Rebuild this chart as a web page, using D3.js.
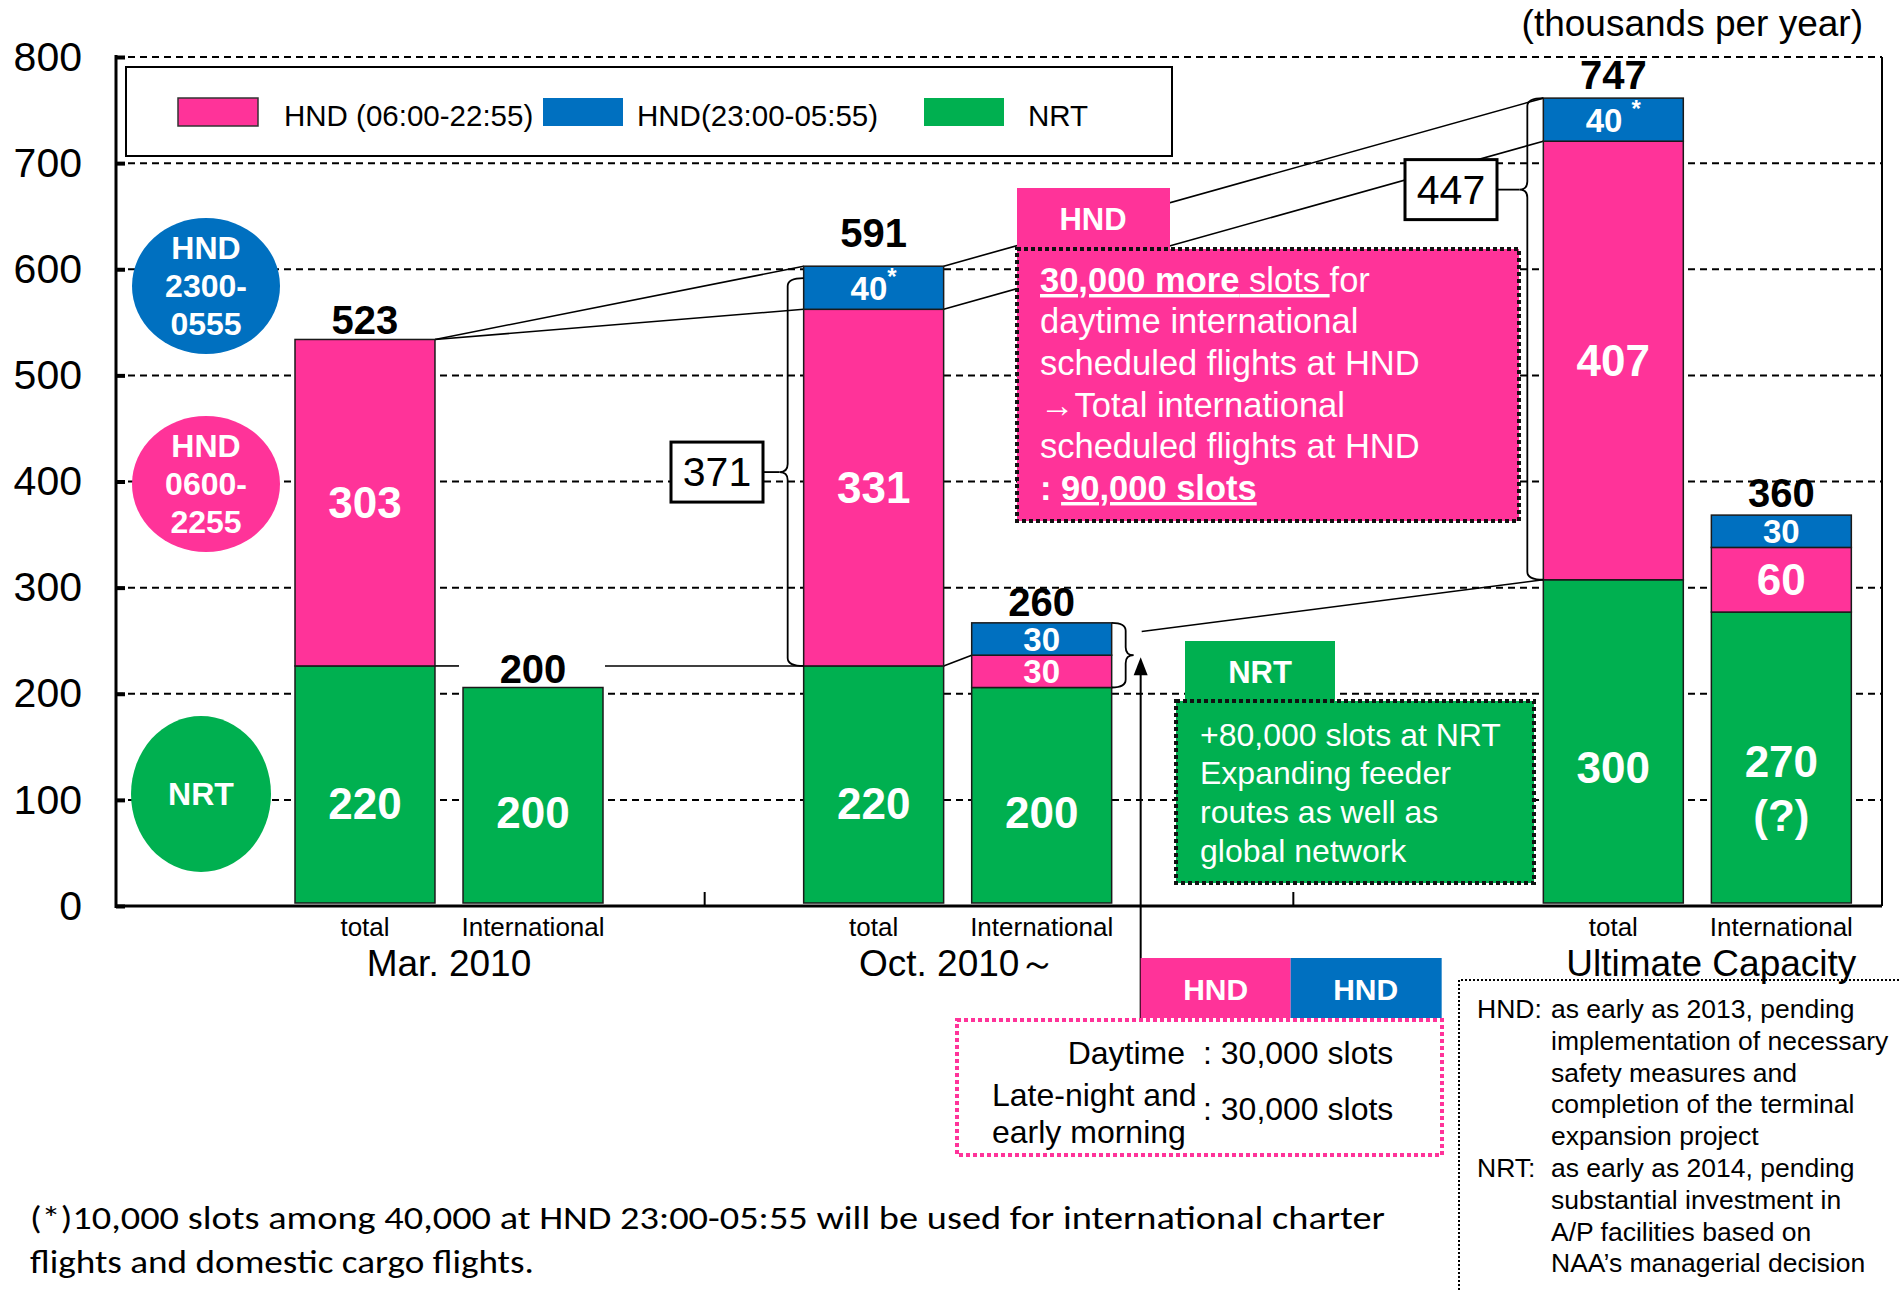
<!DOCTYPE html>
<html>
<head>
<meta charset="utf-8">
<script src="https://cdn.jsdelivr.net/npm/d3@7"></script>
<style>
body { margin: 0; background: #fff; }
text { font-family: "Liberation Sans", Arial, sans-serif; }
</style>
</head>
<body>
<svg id="chart" width="1901" height="1290"></svg>
<script>
// slots per year at HND / NRT, thousands
const groups = ["Mar. 2010", "Oct. 2010～", "Ultimate Capacity"];
const kinds = ["total", "International"];
const nrt = [220, 200, 220, 200, 300, 270];
const hndDay = [303, 0, 331, 30, 407, 60];
const hndNight = [0, 0, 40, 30, 40, 30];
const totals = [523, 200, 591, 260, 747, 360];
const nrtLabels = ["220", "200", "220", "200", "300", "270\n(?)"];
const dayLabels = ["303", "", "331", "30", "407", "60"];
const nightLabels = ["", "", "40*", "30", "40 *", "30"];
const yTicks = [0, 100, 200, 300, 400, 500, 600, 700, 800];
const seriesNames = ["HND (06:00-22:55)", "HND(23:00-05:55)", "NRT"];

const PINK = "#FF3399", BLUE = "#0070C0", GREEN = "#00B050";
const colors = {nrt: GREEN, day: PINK, night: BLUE};

const svg = d3.select("#chart");
svg.append("rect").attr("width", 1901).attr("height", 1290).attr("fill", "#fff");

const left = 116, right = 1882;
// gridline scale
const y = d3.scaleLinear().domain([0, 800]).range([906, 57]);
// the bars in the source are drawn on a slightly taller scale than the gridlines
const yv = d3.scaleLinear().domain([0, 800]).range([903, 41]);
const gx = d3.scaleBand().domain(groups).range([left, right]);
const groupShift = [179, 99, 250];   // bars were nudged by hand in each category
const labelNudge = [0, 0, 14];
const totalLift = [5, 5, 19, 7, 9, 8];
const ix = d3.scaleBand().domain(kinds).range([0, 308]).paddingInner(0.167);
const bw = ix.bandwidth();

let rows = nrt.map(function(v, i){
  return {i: i, group: groups[Math.floor(i / 2)], kind: kinds[i % 2], nrt: v, day: hndDay[i], night: hndNight[i]};
});
function barX(i){
  let g = Math.floor(i / 2);
  return gx(groups[g]) + groupShift[g] + ix(kinds[i % 2]);
}
function pairCenter(g){ return gx(groups[g]) + groupShift[g] + 154; }

// gridlines
svg.append("g").selectAll("line").data(yTicks.filter(d => d > 0)).join("line")
  .attr("x1", left).attr("x2", right)
  .attr("y1", d => y(d)).attr("y2", d => y(d))
  .attr("stroke", "#000").attr("stroke-width", 2).attr("stroke-dasharray", "7 5");
svg.append("line").attr("x1", right).attr("x2", right).attr("y1", y(800)).attr("y2", y(0))
  .attr("stroke", "#000").attr("stroke-width", 2);

// y axis
let yAxis = svg.append("g").attr("transform", "translate(" + left + ",0)")
  .call(d3.axisLeft(y).tickValues(yTicks).tickSize(0).tickPadding(34));
yAxis.select(".domain").remove();
yAxis.selectAll("text").attr("font-size", 41).attr("fill", "#000")
  .style("font-family", "'Liberation Sans', Arial, sans-serif");
yAxis.selectAll(".tick").append("line").attr("x1", 0).attr("x2", 9)
  .attr("stroke", "#000").attr("stroke-width", 4);
svg.append("line").attr("x1", left).attr("x2", left).attr("y1", y(800) - 2).attr("y2", y(0) + 2)
  .attr("stroke", "#000").attr("stroke-width", 3);

// connector lines (drawn under the bars and boxes)
const conn = svg.append("g").attr("stroke", "#000").attr("stroke-width", 1.6).attr("fill", "none");
function seg(x1, y1, x2, y2){
  conn.append("line").attr("x1", x1).attr("y1", y1).attr("x2", x2).attr("y2", y2);
}
seg(barX(0) + bw, yv(totals[0]), barX(2), yv(totals[2]));
seg(barX(0) + bw, yv(totals[0]), barX(2), yv(totals[2] - hndNight[2]));
seg(barX(2) + bw, yv(totals[2]), barX(4), yv(totals[4]));
seg(barX(2) + bw, yv(totals[2] - hndNight[2]), barX(4), yv(totals[4] - hndNight[4]));
seg(barX(0) + bw, yv(nrt[0]), barX(1) - 4, yv(nrt[0]));
seg(barX(1) + bw + 2, yv(nrt[2]), barX(2), yv(nrt[2]));
seg(barX(2) + bw, yv(nrt[2]), barX(3), yv(nrt[3] + hndDay[3]));
seg(barX(3) + bw + 30, yv(252), barX(4), yv(nrt[4]));

// stacked bars
const stacked = d3.stack().keys(["nrt", "day", "night"])(rows);
svg.append("g").selectAll("g").data(stacked).join("g")
  .attr("fill", d => colors[d.key])
  .selectAll("rect").data(d => d.filter(s => s[1] > s[0])).join("rect")
  .attr("x", d => barX(d.data.i)).attr("width", bw)
  .attr("y", d => yv(d[1])).attr("height", d => yv(d[0]) - yv(d[1]))
  .attr("stroke", "#1a1a1a").attr("stroke-width", 1.5);

// labels inside segments
const segLabels = {nrt: nrtLabels, day: dayLabels, night: nightLabels};
stacked.forEach(function(layer){
  layer.forEach(function(s){
    let txt = segLabels[layer.key][s.data.i];
    if(!txt) return;
    let small = (s[1] - s[0]) <= 40;
    // NRT numbers sit a little below the middle in the source
    let pos = layer.key == "nrt" ? s[0] + 0.42 * (s[1] - s[0]) : (s[0] + s[1]) / 2;
    let cy = yv(pos);
    let cx = barX(s.data.i) + bw / 2;
    let t = svg.append("text").attr("x", cx).attr("y", cy)
      .attr("text-anchor", "middle").attr("dominant-baseline", "central")
      .attr("fill", "#fff").attr("font-weight", "bold").attr("font-size", small ? 33 : 44);
    let lines = txt.split("\n");
    if(lines.length > 1){
      lines.forEach(function(l, k){
        t.append("tspan").attr("x", cx).attr("dy", k == 0 ? -20 : 54).text(l);
      });
    } else if(txt.indexOf("*") >= 0){
      let parts = txt.split("*");
      t.append("tspan").text(parts[0]);
      t.append("tspan").attr("font-size", 24).attr("dy", -12).text("*");
    } else {
      t.text(txt);
    }
  });
});

// totals on top
svg.append("g").selectAll("text").data(totals).join("text")
  .attr("x", (d, i) => barX(i) + bw / 2).attr("y", (d, i) => yv(d) - totalLift[i])
  .attr("text-anchor", "middle").attr("font-weight", "bold").attr("font-size", 40)
  .text(d => d);

// x axis
svg.append("line").attr("x1", left).attr("x2", right).attr("y1", y(0)).attr("y2", y(0))
  .attr("stroke", "#000").attr("stroke-width", 3);
svg.append("g").selectAll("line").data(groups.slice(1)).join("line")
  .attr("x1", d => gx(d)).attr("x2", d => gx(d)).attr("y1", y(0)).attr("y2", y(0) - 14)
  .attr("stroke", "#000").attr("stroke-width", 2);
svg.append("g").selectAll("text").data(rows).join("text")
  .attr("x", d => barX(d.i) + bw / 2).attr("y", 936)
  .attr("text-anchor", "middle").attr("font-size", 26).text(d => d.kind);
svg.append("g").selectAll("text").data(groups).join("text")
  .attr("x", (d, g) => pairCenter(g) + labelNudge[g]).attr("y", 976)
  .attr("text-anchor", "middle").attr("font-size", 37).text(d => d);

// braces
function braceLeft(xr, y1, y2, ty){
  let xv = xr - 16, r = 8;
  return "M" + xr + "," + y1 + " Q" + xv + "," + y1 + " " + xv + "," + (y1 + r) +
    " L" + xv + "," + (ty - r) + " Q" + xv + "," + ty + " " + (xv - r) + "," + ty +
    " Q" + xv + "," + ty + " " + xv + "," + (ty + r) +
    " L" + xv + "," + (y2 - r) + " Q" + xv + "," + y2 + " " + xr + "," + y2;
}
function braceRight(xl, y1, y2, ty){
  let xv = xl + 14, r = 8;
  return "M" + xl + "," + y1 + " Q" + xv + "," + y1 + " " + xv + "," + (y1 + r) +
    " L" + xv + "," + (ty - r) + " Q" + xv + "," + ty + " " + (xv + r) + "," + ty +
    " Q" + xv + "," + ty + " " + xv + "," + (ty + r) +
    " L" + xv + "," + (y2 - r) + " Q" + xv + "," + y2 + " " + xl + "," + y2;
}
const braces = svg.append("g").attr("fill", "none").attr("stroke", "#000").attr("stroke-width", 1.8);

function countBox(xRight, cy, label){
  svg.append("rect").attr("x", xRight - 92).attr("y", cy - 30).attr("width", 92).attr("height", 60)
    .attr("fill", "#fff").attr("stroke", "#000").attr("stroke-width", 3);
  svg.append("text").attr("x", xRight - 46).attr("y", cy).attr("dominant-baseline", "central")
    .attr("text-anchor", "middle").attr("font-size", 41).text(label);
}

let b3top = yv(totals[2]) + 12, b3bot = yv(nrt[2]), b3tip = (b3top + b3bot) / 2;
braces.append("path").attr("d", braceLeft(barX(2), b3top, b3bot, b3tip));
braces.append("line").attr("x1", 763).attr("x2", barX(2) - 24).attr("y1", b3tip).attr("y2", b3tip);
countBox(763, b3tip, String(totals[2] - nrt[2]));

let b5top = yv(totals[4]), b5bot = yv(nrt[4]), b5tip = b5top + 0.19 * (b5bot - b5top);
braces.append("path").attr("d", braceLeft(barX(4), b5top, b5bot, b5tip));
braces.append("line").attr("x1", 1497).attr("x2", barX(4) - 24).attr("y1", b5tip).attr("y2", b5tip);
countBox(1497, b5tip, String(totals[4] - nrt[4]));

let b4tip = yv(nrt[3] + hndDay[3]);
braces.append("path").attr("d", braceRight(barX(3) + bw, yv(totals[3]), yv(nrt[3]), b4tip));

// arrow from the HND tabs up to the brace
let ax = barX(3) + bw + 29;
svg.append("line").attr("x1", ax).attr("x2", ax).attr("y1", 1018).attr("y2", b4tip + 10)
  .attr("stroke", "#000").attr("stroke-width", 2);
svg.append("path").attr("d", "M" + ax + "," + (b4tip + 2) + " L" + (ax - 7) + "," + (b4tip + 20) + " L" + (ax + 7) + "," + (b4tip + 20) + " Z")
  .attr("fill", "#000");

// legend
svg.append("rect").attr("x", 126).attr("y", 67).attr("width", 1046).attr("height", 89)
  .attr("fill", "#fff").attr("stroke", "#000").attr("stroke-width", 2);
const legendX = [178, 543, 924];
const legendTextX = [284, 637, 1028];
const legendCol = [PINK, BLUE, GREEN];
seriesNames.forEach(function(n, k){
  svg.append("rect").attr("x", legendX[k]).attr("y", 98).attr("width", 80).attr("height", 28)
    .attr("fill", legendCol[k]).attr("stroke", k == 0 ? "#333" : "none").attr("stroke-width", 1.5);
  svg.append("text").attr("x", legendTextX[k]).attr("y", 126).attr("font-size", 29.5).text(n);
});

svg.append("text").attr("x", 1863).attr("y", 36).attr("text-anchor", "end")
  .attr("font-size", 37).text("(thousands per year)");

// ellipse tags on the left
const tags = [
  {cx: 206, cy: 286, rx: 74, ry: 68, fill: BLUE, lines: ["HND", "2300-", "0555"]},
  {cx: 206, cy: 484, rx: 74, ry: 68, fill: PINK, lines: ["HND", "0600-", "2255"]},
  {cx: 201, cy: 794, rx: 70, ry: 78, fill: GREEN, lines: ["NRT"]}
];
tags.forEach(function(t){
  svg.append("ellipse").attr("cx", t.cx).attr("cy", t.cy).attr("rx", t.rx).attr("ry", t.ry).attr("fill", t.fill);
  t.lines.forEach(function(l, k){
    svg.append("text").attr("x", t.cx).attr("y", t.cy + (k - (t.lines.length - 1) / 2) * 38)
      .attr("text-anchor", "middle").attr("dominant-baseline", "central")
      .attr("fill", "#fff").attr("font-weight", "bold").attr("font-size", 32).text(l);
  });
});

// HND note
svg.append("rect").attr("x", 1017).attr("y", 188).attr("width", 153).attr("height", 61).attr("fill", PINK);
svg.append("text").attr("x", 1093).attr("y", 230).attr("text-anchor", "middle")
  .attr("fill", "#fff").attr("font-weight", "bold").attr("font-size", 31).text("HND");
svg.append("rect").attr("x", 1017).attr("y", 249).attr("width", 502).attr("height", 272)
  .attr("fill", PINK).attr("stroke", "#111").attr("stroke-width", 4).attr("stroke-dasharray", "4 3");
const hndBase = [292, 333, 375, 417, 458, 500];
let n1 = svg.append("text").attr("x", 1040).attr("y", hndBase[0]).attr("fill", "#fff").attr("font-size", 34.5);
n1.append("tspan").attr("font-weight", "bold").attr("text-decoration", "underline").text("30,000 more");
n1.append("tspan").attr("text-decoration", "underline").text(" slots ");
n1.append("tspan").text("for");
["daytime international", "scheduled flights at HND", "→Total international", "scheduled flights at HND"].forEach(function(l, k){
  svg.append("text").attr("x", 1040).attr("y", hndBase[k + 1]).attr("fill", "#fff").attr("font-size", 34.5).text(l);
});
let n6 = svg.append("text").attr("x", 1040).attr("y", hndBase[5]).attr("fill", "#fff")
  .attr("font-size", 34.5).attr("font-weight", "bold");
n6.append("tspan").text(": ");
n6.append("tspan").attr("text-decoration", "underline").text("90,000 slots");

// NRT note
svg.append("rect").attr("x", 1185).attr("y", 641).attr("width", 150).attr("height", 60).attr("fill", GREEN);
svg.append("text").attr("x", 1260).attr("y", 683).attr("text-anchor", "middle")
  .attr("fill", "#fff").attr("font-weight", "bold").attr("font-size", 31).text("NRT");
svg.append("rect").attr("x", 1176).attr("y", 701).attr("width", 358).attr("height", 182)
  .attr("fill", GREEN).attr("stroke", "#111").attr("stroke-width", 4).attr("stroke-dasharray", "4 3");
const nrtBase = [746, 784, 823, 862];
["+80,000 slots at NRT", "Expanding feeder", "routes as well as", "global network"].forEach(function(l, k){
  svg.append("text").attr("x", 1200).attr("y", nrtBase[k]).attr("fill", "#fff").attr("font-size", 32).text(l);
});

// bottom HND / HND tabs and slot box
svg.append("rect").attr("x", ax).attr("y", 958).attr("width", 150).attr("height", 60).attr("fill", PINK);
svg.append("rect").attr("x", ax + 150).attr("y", 958).attr("width", 151).attr("height", 60).attr("fill", BLUE);
svg.append("text").attr("x", ax + 75).attr("y", 1000).attr("text-anchor", "middle")
  .attr("fill", "#fff").attr("font-weight", "bold").attr("font-size", 30).text("HND");
svg.append("text").attr("x", ax + 225).attr("y", 1000).attr("text-anchor", "middle")
  .attr("fill", "#fff").attr("font-weight", "bold").attr("font-size", 30).text("HND");
svg.append("rect").attr("x", 957).attr("y", 1020).attr("width", 485).attr("height", 135)
  .attr("fill", "#fff").attr("stroke", PINK).attr("stroke-width", 4).attr("stroke-dasharray", "4 3");
svg.append("text").attr("x", 1185).attr("y", 1064).attr("text-anchor", "end").attr("font-size", 32).text("Daytime");
svg.append("text").attr("x", 1203).attr("y", 1064).attr("font-size", 32).text(": 30,000 slots");
svg.append("text").attr("x", 992).attr("y", 1106).attr("font-size", 32).text("Late-night and");
svg.append("text").attr("x", 992).attr("y", 1143).attr("font-size", 32).text("early morning");
svg.append("text").attr("x", 1203).attr("y", 1120).attr("font-size", 32).text(": 30,000 slots");

// right notes
svg.append("path").attr("d", "M1459,1290 L1459,980 L1901,980")
  .attr("fill", "none").attr("stroke", "#000").attr("stroke-width", 2).attr("stroke-dasharray", "2 2");
const notes = [
  ["HND:", "as early as 2013, pending"],
  ["", "implementation of necessary"],
  ["", "safety measures and"],
  ["", "completion of the terminal"],
  ["", "expansion project"],
  ["NRT:", "as early as 2014, pending"],
  ["", "substantial investment in"],
  ["", "A/P facilities based on"],
  ["", "NAA’s managerial decision"]
];
notes.forEach(function(n, k){
  let yy = 1018 + k * 31.8;
  if(n[0]) svg.append("text").attr("x", 1477).attr("y", yy).attr("font-size", 26.5).text(n[0]);
  svg.append("text").attr("x", 1551).attr("y", yy).attr("font-size", 26.5).text(n[1]);
});

// footnote
svg.append("text").attr("x", 30).attr("y", 1229).attr("font-size", 33)
  .attr("textLength", 1355).attr("lengthAdjust", "spacingAndGlyphs")
  .style("font-family", "Carlito, Lato, sans-serif")
  .text("(*)10,000 slots among 40,000 at HND 23:00-05:55 will be used for international charter");
svg.append("text").attr("x", 30).attr("y", 1273).attr("font-size", 33)
  .attr("textLength", 504).attr("lengthAdjust", "spacingAndGlyphs")
  .style("font-family", "Carlito, Lato, sans-serif")
  .text("flights and domestic cargo flights.");
</script>
</body>
</html>
